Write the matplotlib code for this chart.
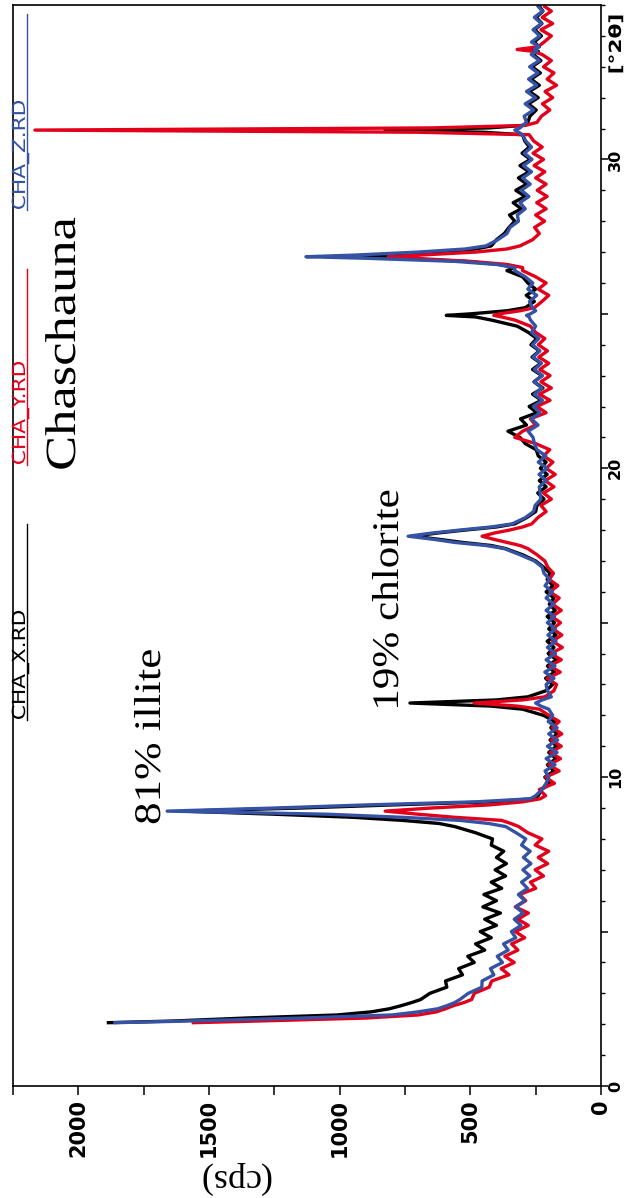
import matplotlib
matplotlib.use("Agg")
import matplotlib.pyplot as plt
from matplotlib import patheffects
from matplotlib.transforms import Affine2D
from matplotlib.lines import Line2D
from matplotlib.ticker import MultipleLocator, FixedLocator

# ---------------------------------------------------------------- data
two_theta = [
    2.05, 2.1, 2.2, 2.3, 2.4, 2.5, 2.6, 2.7, 2.8,
    3.0, 3.2, 3.4, 3.6, 3.8, 4.0, 4.2, 4.4, 4.6, 4.8, 5.0, 5.2, 5.4, 5.6,
    5.8, 6.0, 6.2, 6.4, 6.6, 6.8, 7.0, 7.2, 7.4, 7.6, 7.8, 8.0, 8.2,
    8.4, 8.5, 8.6, 8.7, 8.8, 8.9, 9.0, 9.1, 9.2,
    9.3, 9.4, 9.6, 9.8, 10.0, 10.2, 10.4, 10.6, 10.8, 11.0, 11.2, 11.4,
    11.6, 11.8, 12.0,
    12.2, 12.3, 12.4, 12.5, 12.6, 12.8,
    13.0, 13.2, 13.4, 13.6, 13.8, 14.0, 14.2, 14.4, 14.6, 14.8, 15.0, 15.2,
    15.4, 15.6, 15.8, 16.0, 16.2, 16.4, 16.6, 16.8, 17.0, 17.2, 17.4,
    17.5, 17.6, 17.7, 17.8, 17.9, 18.0, 18.1, 18.2,
    18.4, 18.6, 18.8, 19.0, 19.2, 19.4, 19.6, 19.8, 20.0, 20.2, 20.4, 20.6,
    20.8,
    21.0, 21.2, 21.4, 21.6, 21.8, 22.0, 22.2, 22.4, 22.6, 22.8, 23.0, 23.2,
    23.4, 23.6, 23.8, 24.0, 24.2, 24.4, 24.6, 24.8,
    24.9, 24.95, 25.0, 25.1, 25.2,
    25.4, 25.6, 25.8, 26.0, 26.2, 26.4,
    26.5, 26.6, 26.7, 26.8, 26.85, 26.9, 27.0, 27.1, 27.2,
    27.4, 27.6, 27.8, 28.0, 28.2, 28.4, 28.6, 28.8, 29.0, 29.2, 29.4, 29.6,
    29.8, 30.0, 30.2, 30.4, 30.6,
    30.8, 30.88, 30.95, 31.02, 31.1, 31.2,
    31.4, 31.6, 31.8, 32.0, 32.2, 32.4, 32.6, 32.8, 33.0, 33.2, 33.4, 33.5,
    33.56, 33.65, 33.8, 34.0, 34.2, 34.4, 34.6, 34.8, 34.95,
]

cps_x = [
    1885, 1650, 1360, 1010, 880, 810, 765, 725, 690,
    655, 590, 595, 530, 545, 485, 510, 445, 480, 420, 462, 400, 445, 385,
    452, 400, 448, 380, 420, 365, 405, 362, 400, 372, 420, 415, 480,
    560, 620, 760, 950, 1250, 1600, 1150, 800, 420,
    260, 240, 228, 192, 215, 180, 205, 172, 200, 170, 195, 168,
    192, 176, 220,
    300, 420, 731, 400, 280, 210,
    185, 212, 178, 205, 170, 202, 180, 206, 172, 200, 178, 206,
    175, 198, 180, 210, 184, 206, 195, 220, 250, 300, 365,
    420, 530, 620, 715, 630, 520, 400, 330,
    285, 250, 245, 218, 242, 210, 236, 206, 232, 210, 240, 248,
    290,
    310, 356, 285, 308, 245, 275, 228, 262, 222, 256, 226, 262,
    230, 264, 236, 268, 246, 278, 320, 420,
    480, 592, 500, 360, 290,
    255, 286, 250, 280, 300, 360,
    330, 390, 520, 780, 915, 820, 620, 480, 420,
    400, 370, 352, 330, 350, 305, 336, 290, 326, 284, 316, 275,
    310, 270, 302, 274, 292,
    300, 450, 826, 430, 300, 280,
    272, 248, 278, 240, 274, 236, 268, 232, 264, 230, 260, 240,
    262, 236, 256, 228, 254, 226, 248, 222, 235,
]

cps_y = [
    1560, 1330, 900, 700, 630, 595, 565, 525, 495,
    485, 428, 418, 352, 382, 332, 368, 318, 342, 292, 328, 278, 318, 278,
    328, 288, 312, 250, 270, 220, 252, 204, 240, 200, 252, 226, 280,
    315, 345, 380, 560, 700, 826, 650, 430, 300,
    232, 212, 236, 178, 212, 160, 200, 155, 194, 152, 190, 150,
    186, 160, 200,
    235, 320, 486, 300, 215, 180,
    170, 206, 156, 196, 152, 192, 148, 186, 150, 184, 155, 188,
    152, 186, 160, 196, 165, 198, 182, 204, 215, 245, 280,
    310, 360, 410, 455, 410, 350, 300, 265,
    242, 210, 230, 190, 220, 180, 214, 175, 210, 184, 220, 196,
    250,
    330, 300, 250, 270, 210, 246, 195, 236, 190, 230, 195, 234,
    200, 238, 205, 240, 215, 250, 270, 330,
    380, 410, 390, 310, 255,
    226, 200, 240, 210, 250, 300,
    300, 360, 500, 720, 815, 700, 480, 360, 310,
    262, 236, 254, 216, 250, 210, 246, 206, 244, 210, 250, 215,
    256, 220, 260, 225, 258,
    275, 700, 2166, 650, 290, 245,
    228, 196, 224, 185, 214, 170, 206, 180, 220, 190, 226, 260,
    321, 240, 218, 190, 230, 185, 225, 190, 215,
]

cps_z = [
    1860, 1600, 1150, 800, 700, 625, 590, 560, 540,
    508, 456, 455, 410, 423, 377, 397, 355, 373, 326, 343, 306, 332, 298,
    326, 292, 316, 281, 304, 272, 299, 268, 297, 271, 304, 288, 325,
    365, 430, 540, 760, 1050, 1660, 1250, 900, 480,
    270, 250, 226, 210, 200, 214, 176, 210, 168, 205, 166, 200,
    168, 202, 185,
    200, 230, 250, 225, 190, 205,
    210, 180, 215, 176, 210, 174, 205, 172, 203, 174, 205, 178,
    210, 180, 210, 186, 214, 196, 218, 225, 255, 310, 370,
    440, 560, 640, 738, 650, 540, 420, 340,
    290, 258, 252, 230, 233, 236, 210, 237, 206, 240, 211, 245,
    255,
    260, 279, 241, 266, 234, 259, 224, 255, 226, 257, 224, 255,
    228, 260, 234, 262, 238, 266, 250, 270,
    275, 285, 270, 250, 262,
    274, 246, 280, 261, 290, 330,
    330, 400, 560, 900, 1129, 950, 700, 520, 440,
    395, 360, 348, 316, 320, 290, 310, 276, 305, 271, 300, 266,
    297, 264, 293, 266, 288,
    300, 315, 330, 310, 300, 285,
    294, 258, 290, 251, 285, 246, 277, 241, 273, 236, 267, 245,
    255, 236, 266, 234, 260, 228, 255, 224, 240,
]

sample_names = ["CHA_X.RD", "CHA_Y.RD", "CHA_Z.RD"]
sample_colors = ["#000000", "#e3001b", "#3552a5"]
cps_ticks = [0, 500, 1000, 1500, 2000]
theta_ticks = [0, 5, 10, 15, 20, 25, 30]
theta_labels = ["0", "", "10", "", "20", "", "30"]

assert len(two_theta) == len(cps_x) == len(cps_y) == len(cps_z)


class StretchY(patheffects.AbstractPathEffect):
    """Draw text glyphs stretched along the display y direction."""

    def __init__(self, sy, anchor=0.5):
        super().__init__()
        self.sy = sy
        self.anchor = anchor

    def draw_path(self, renderer, gc, tpath, affine, rgbFace=None):
        ext = affine.transform_path(tpath).get_extents()
        y0 = ext.y0 + self.anchor * ext.height
        stretch = Affine2D().translate(0, -y0).scale(1, self.sy).translate(0, y0)
        renderer.draw_path(gc, tpath, affine + stretch, rgbFace)


W, H = 626, 1198


def fx(px):
    return px / W


def fy(py):
    return 1 - py / H


fig = plt.figure(figsize=(W / 100, H / 100), dpi=100)
ax = fig.add_axes([fx(13), fy(1086), (601 - 13) / W, (1086 - 5) / H])

lw = 2.4
for cps, col in zip([cps_x, cps_y, cps_z], sample_colors):
    ax.plot(cps, two_theta, color=col, lw=lw, solid_joinstyle="round")

ax.set_xlim(2250, 0)
ax.set_ylim(0, 35)

for sp in ax.spines.values():
    sp.set_linewidth(1.2)

# intensity axis along the bottom
ax.xaxis.set_major_locator(FixedLocator(cps_ticks))
ax.xaxis.set_minor_locator(MultipleLocator(250))
ax.tick_params(axis="x", which="both", direction="out", length=6.5, width=1.1,
               pad=3, top=False, bottom=True)
ax.set_xticklabels([str(v) for v in cps_ticks], rotation=90, fontsize=15,
                   fontweight="bold", family="DejaVu Sans")

# 2theta axis along the right edge
ax.yaxis.tick_right()
ax.yaxis.set_major_locator(FixedLocator(theta_ticks))
ax.yaxis.set_minor_locator(MultipleLocator(1))
ax.tick_params(axis="y", which="major", direction="out", length=5, width=1.1,
               pad=0, left=False, right=True)
ax.tick_params(axis="y", which="minor", direction="out", length=3.2, width=1.0,
               left=False, right=True)
ax.set_yticklabels(theta_labels, rotation=90, va="center", fontsize=11.5,
                   fontweight="bold", family="DejaVu Sans")

# sample legend: names with a coloured rule running upward
starts = [720, 465, 210]
for name, col, y0 in zip(sample_names, sample_colors, starts):
    t = fig.text(fx(25), fy(y0), name, rotation=90, rotation_mode="anchor",
                 ha="left", va="baseline", fontsize=13, color=col,
                 family="DejaVu Sans")
    t.set_path_effects([StretchY(1.2, anchor=0.0)])
    fig.add_artist(Line2D([fx(26.5), fx(26.5)], [fy(y0), fy(y0 - 196)],
                          color=col, lw=1.0))

serif = "Liberation Serif"
t = fig.text(fx(75), fy(344), "Chaschauna", rotation=90, rotation_mode="anchor",
             ha="center", va="baseline", fontsize=31, family=serif)
t.set_path_effects([StretchY(1.22)])

t = fig.text(fx(160), fy(737), "81% illite", rotation=90, rotation_mode="anchor",
             ha="center", va="baseline", fontsize=27, family=serif)
t.set_path_effects([StretchY(1.2)])

t = fig.text(fx(398), fy(600), "19% chlorite", rotation=90, rotation_mode="anchor",
             ha="center", va="baseline", fontsize=27, family=serif)
t.set_path_effects([StretchY(1.15)])

fig.text(fx(234), fy(1178), "(cps)", rotation=180, rotation_mode="anchor",
         ha="center", va="center", fontsize=26, family=serif)

t = fig.text(fx(607), fy(44), "[°2θ]", rotation=90, rotation_mode="anchor",
             ha="center", va="top", fontsize=12, fontweight="bold",
             family="DejaVu Sans")
t.set_path_effects([StretchY(1.3)])

fig.savefig("out.png", dpi=100)
